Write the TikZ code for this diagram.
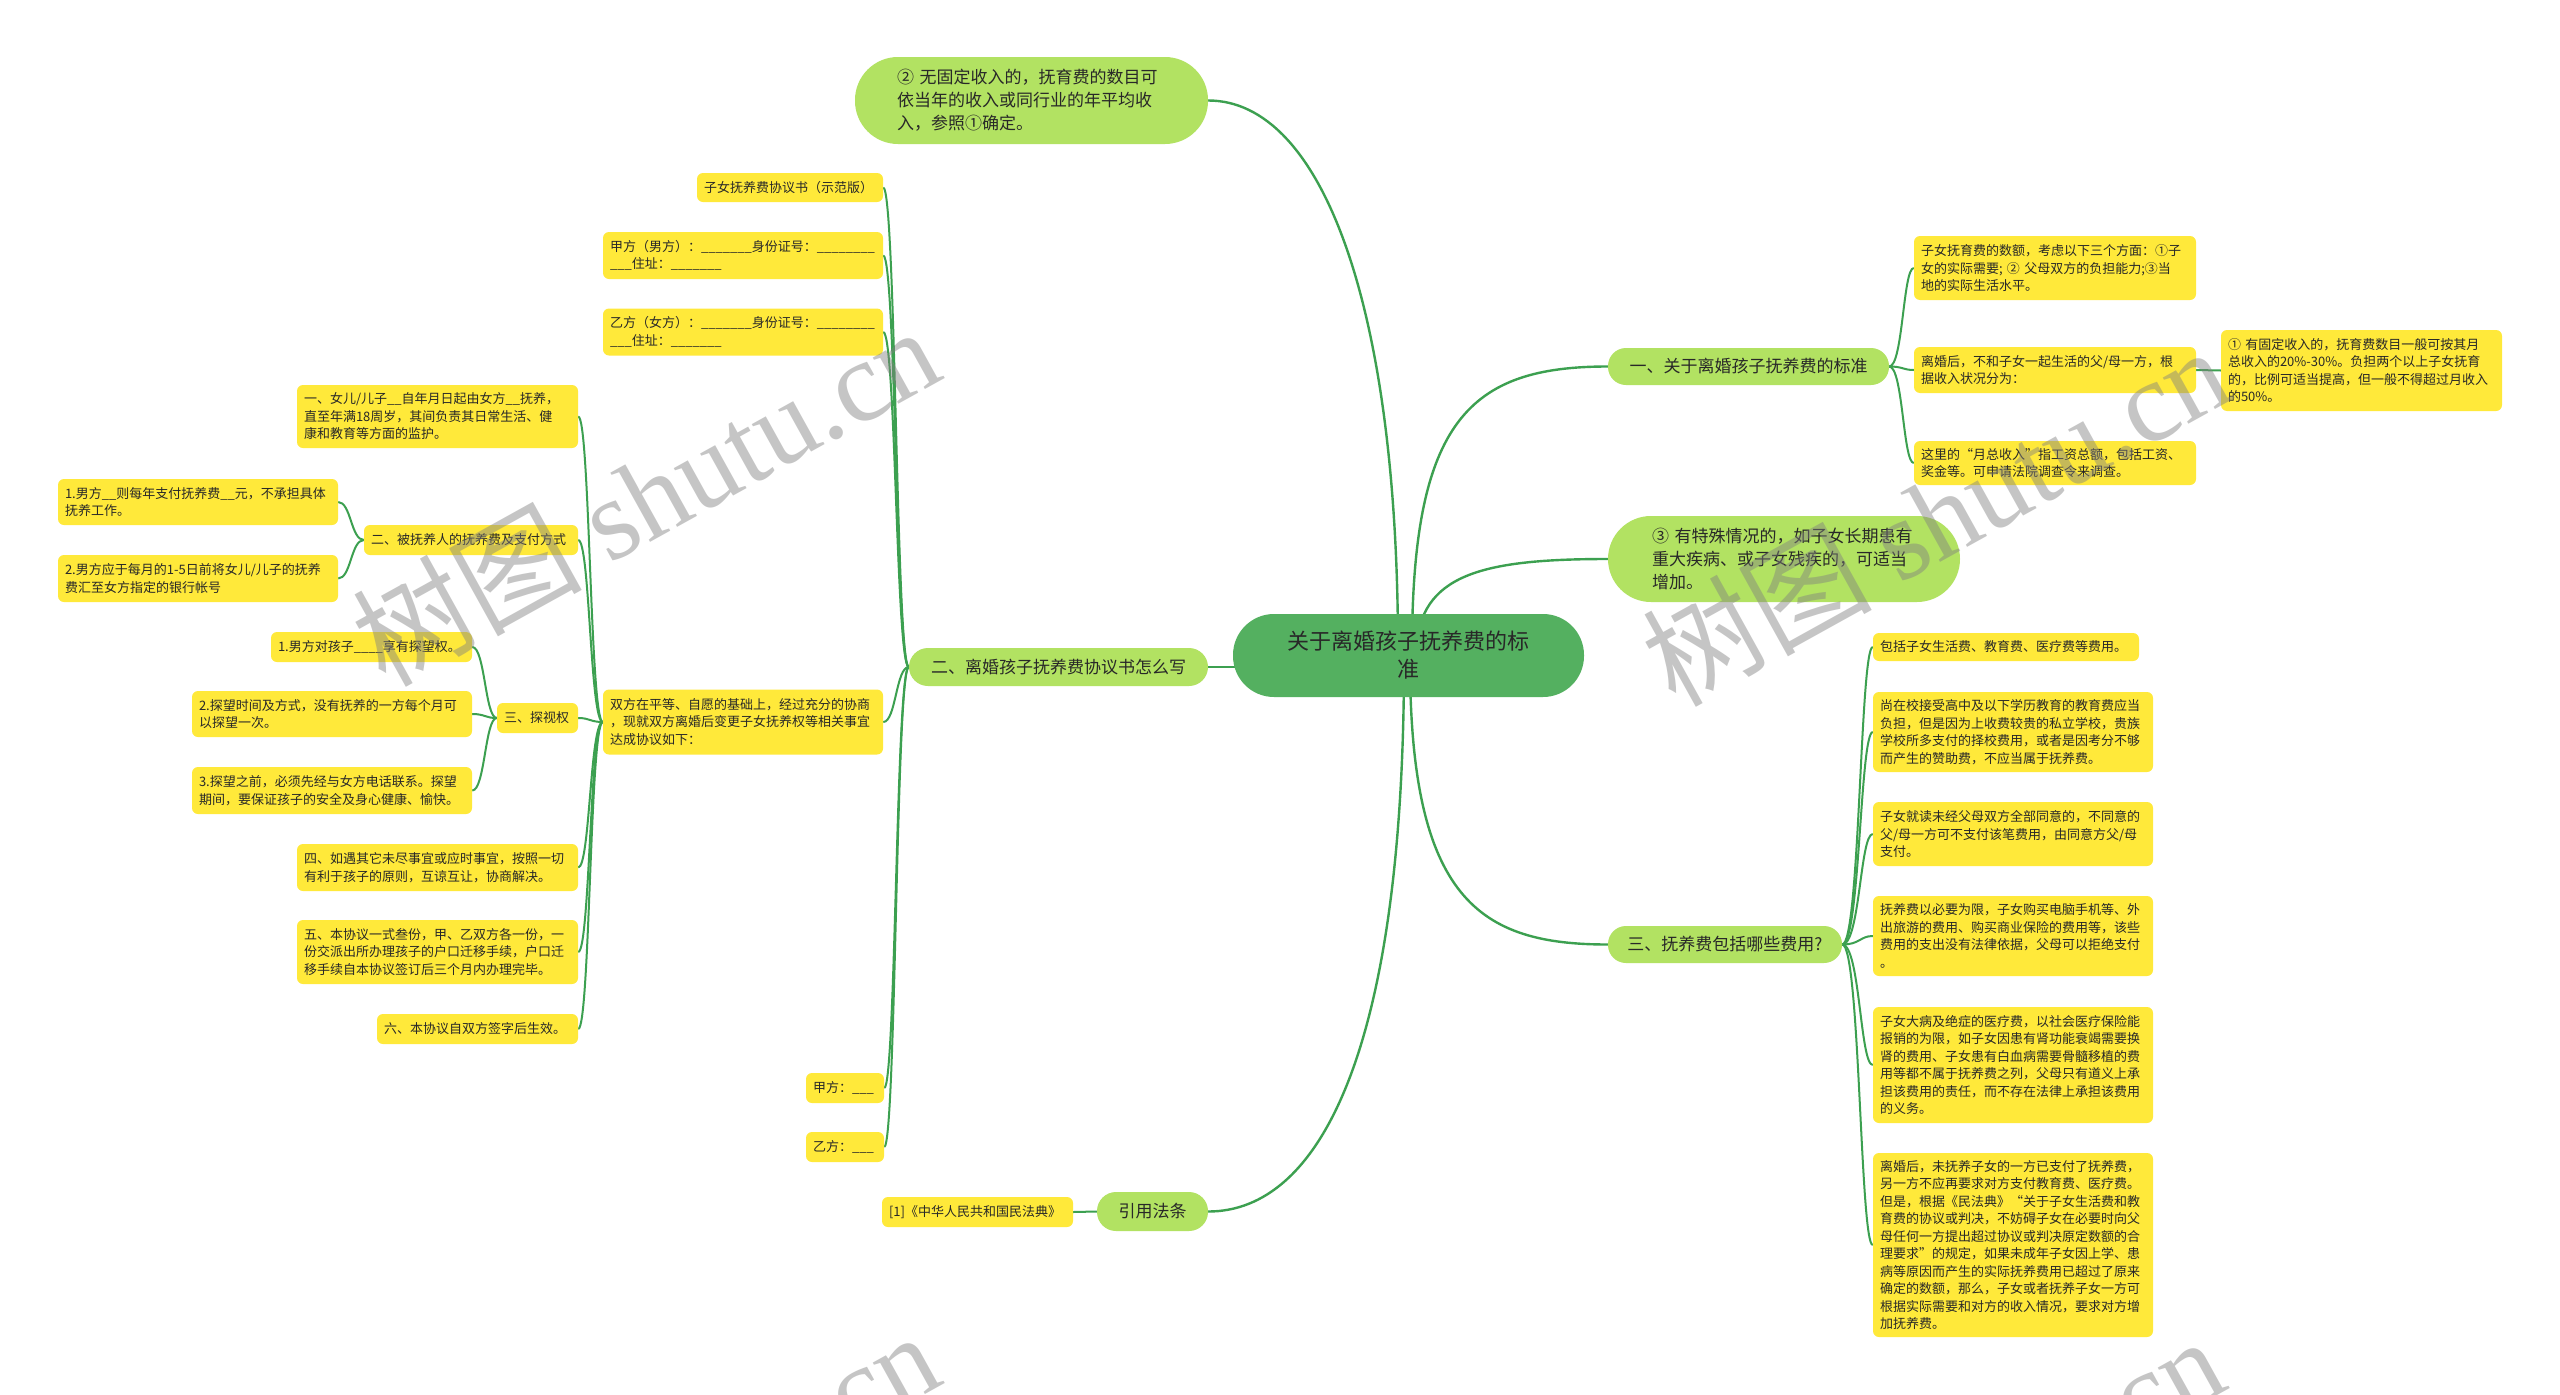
\documentclass[tikz,border=0pt]{standalone}
\usepackage{fontspec}
\setmainfont{Noto Sans CJK SC}
\newfontfamily\cjk{Noto Sans CJK SC}
\newfontfamily\wmser{Liberation Serif}
\usetikzlibrary{backgrounds}
\definecolor{rootg}{RGB}{84,176,96}
\definecolor{lvg}{RGB}{178,226,98}
\definecolor{yel}{RGB}{255,233,58}
\definecolor{lnc}{RGB}{60,160,80}
\definecolor{txt}{RGB}{40,40,40}
\tikzset{
  ybox/.style={fill=yel, rounded corners=6pt, inner xsep=7pt, inner ysep=3pt, align=left, text=txt, font=\cjk\fontsize{13}{17.5}\selectfont},
  pill/.style={fill=lvg, inner sep=0pt, align=center, text=txt, font=\cjk\fontsize{17}{23}\selectfont},
  conn/.style={draw=lnc, line width=2pt},
  rconn/.style={draw=lnc, line width=2.4pt},
  wm/.style={text=gray, opacity=0.45, font=\cjk\fontsize{115}{120}\selectfont, rotate=29, inner sep=0pt}
}
\newcommand\lk[3]{\draw[conn] (#1) .. controls (#3,0|-#1) and (#3,0|-#2) .. (#2);}
\begin{document}
\begin{tikzpicture}[x=1pt,y=-1pt]
\useasboundingbox (0,0) rectangle (2560,1395);

% root and level 1
\node[fill=rootg, rounded corners=41pt, minimum width=351pt, minimum height=83pt, align=center, text=txt, font=\cjk\fontsize{22}{28}\selectfont, inner sep=0pt] (root) at (1408.5,655.5) {关于离婚孩子抚养费的标\\准};
\node[pill, rounded corners=43pt, text width=269pt, inner xsep=42pt, minimum height=87pt, align=left] (T) at (1031.5,100.5) {② 无固定收入的，抚育费的数目可\\依当年的收入或同行业的年平均收\\入，参照①确定。};
\node[pill, rounded corners=18pt, minimum width=281pt, minimum height=37pt] (A) at (1748.5,366.5) {一、关于离婚孩子抚养费的标准};
\node[pill, rounded corners=43pt, text width=264pt, inner xsep=44pt, minimum height=86pt, align=left] (B) at (1784,559) {③ 有特殊情况的，如子女长期患有\\重大疾病、或子女残疾的，可适当\\增加。};
\node[pill, rounded corners=18pt, minimum width=234pt, minimum height=37pt] (C) at (1725,944.5) {三、抚养费包括哪些费用?};
\node[pill, rounded corners=19pt, minimum width=299pt, minimum height=38pt] (D) at (1058.5,667) {二、离婚孩子抚养费协议书怎么写};
\node[pill, rounded corners=19pt, minimum width=111pt, minimum height=39pt] (E) at (1152.5,1211.5) {引用法条};
\node[ybox, text width=177pt, minimum height=30pt] (E1) at (977.5,1212) {[1]《中华人民共和国民法典》};

% right: standard
\node[ybox, text width=268pt, minimum height=64pt] (R1) at (2055,268) {子女抚育费的数额，考虑以下三个方面：①子\\女的实际需要; ② 父母双方的负担能力;③当\\地的实际生活水平。};
\node[ybox, text width=268pt, minimum height=46pt] (R2) at (2055,370) {离婚后，不和子女一起生活的父/母一方，根\\据收入状况分为：};
\node[ybox, text width=268pt, minimum height=44pt] (R3) at (2055,463) {这里的“月总收入”指工资总额，包括工资、\\奖金等。可申请法院调查令来调查。};
\node[ybox, text width=267pt, minimum height=81pt] (R2a) at (2361.5,370.5) {① 有固定收入的，抚育费数目一般可按其月\\总收入的20\%-30\%。负担两个以上子女抚育\\的，比例可适当提高，但一般不得超过月收入\\的50\%。};

% right: costs
\node[ybox, text width=252pt, minimum height=28pt] (S1) at (2006,647) {包括子女生活费、教育费、医疗费等费用。};
\node[ybox, text width=266pt, minimum height=80pt] (S2) at (2013,732) {尚在校接受高中及以下学历教育的教育费应当\\负担，但是因为上收费较贵的私立学校，贵族\\学校所多支付的择校费用，或者是因考分不够\\而产生的赞助费，不应当属于抚养费。};
\node[ybox, text width=266pt, minimum height=64pt] (S3) at (2013,834) {子女就读未经父母双方全部同意的，不同意的\\父/母一方可不支付该笔费用，由同意方父/母\\支付。};
\node[ybox, text width=266pt, minimum height=80pt] (S4) at (2013,936) {抚养费以必要为限，子女购买电脑手机等、外\\出旅游的费用、购买商业保险的费用等，该些\\费用的支出没有法律依据，父母可以拒绝支付\\。};
\node[ybox, text width=266pt, minimum height=116pt] (S5) at (2013,1065) {子女大病及绝症的医疗费，以社会医疗保险能\\报销的为限，如子女因患有肾功能衰竭需要换\\肾的费用、子女患有白血病需要骨髓移植的费\\用等都不属于抚养费之列，父母只有道义上承\\担该费用的责任，而不存在法律上承担该费用\\的义务。};
\node[ybox, text width=266pt, minimum height=184pt] (S6) at (2013,1245) {离婚后，未抚养子女的一方已支付了抚养费，\\另一方不应再要求对方支付教育费、医疗费。\\但是，根据《民法典》“关于子女生活费和教\\育费的协议或判决，不妨碍子女在必要时向父\\母任何一方提出超过协议或判决原定数额的合\\理要求”的规定，如果未成年子女因上学、患\\病等原因而产生的实际抚养费用已超过了原来\\确定的数额，那么，子女或者抚养子女一方可\\根据实际需要和对方的收入情况，要求对方增\\加抚养费。};

% left: agreement
\node[ybox, text width=172pt, minimum height=29pt] (L1) at (790,187.5) {子女抚养费协议书（示范版）};
\node[ybox, text width=266pt, minimum height=47pt] (L2) at (743,255.5) {甲方（男方）：\_\_\_\_\_\_\_身份证号：\_\_\_\_\_\_\_\_\\\_\_\_住址：\_\_\_\_\_\_\_};
\node[ybox, text width=266pt, minimum height=47pt] (L3) at (743,332) {乙方（女方）：\_\_\_\_\_\_\_身份证号：\_\_\_\_\_\_\_\_\\\_\_\_住址：\_\_\_\_\_\_\_};
\node[ybox, text width=266pt, minimum height=65pt] (L4) at (743,722) {双方在平等、自愿的基础上，经过充分的协商\\，现就双方离婚后变更子女抚养权等相关事宜\\达成协议如下：};
\node[ybox, text width=64pt, minimum height=30pt] (L5) at (845,1088) {甲方：\_\_\_};
\node[ybox, text width=64pt, minimum height=30pt] (L6) at (845,1147) {乙方：\_\_\_};

\node[ybox, text width=267pt, minimum height=63pt] (M1) at (437.5,416.5) {一、女儿/儿子\_\_自年月日起由女方\_\_抚养，\\直至年满18周岁，其间负责其日常生活、健\\康和教育等方面的监护。};
\node[ybox, text width=200pt, minimum height=30pt] (M2) at (471,540) {二、被抚养人的抚养费及支付方式};
\node[ybox, text width=67pt, minimum height=30pt] (M3) at (537.5,718) {三、探视权};
\node[ybox, text width=267pt, minimum height=47pt] (M4) at (437.5,867.5) {四、如遇其它未尽事宜或应时事宜，按照一切\\有利于孩子的原则，互谅互让，协商解决。};
\node[ybox, text width=267pt, minimum height=64pt] (M5) at (437.5,952) {五、本协议一式叁份，甲、乙双方各一份，一\\份交派出所办理孩子的户口迁移手续，户口迁\\移手续自本协议签订后三个月内办理完毕。};
\node[ybox, text width=187pt, minimum height=30pt] (M6) at (477.5,1029) {六、本协议自双方签字后生效。};

\node[ybox, text width=266pt, minimum height=46pt] (N1) at (198,502) {1.男方\_\_则每年支付抚养费\_\_元，不承担具体\\抚养工作。};
\node[ybox, text width=266pt, minimum height=47pt] (N2) at (198,578.5) {2.男方应于每月的1-5日前将女儿/儿子的抚养\\费汇至女方指定的银行帐号};

\node[ybox, text width=187pt, minimum height=30pt] (P1) at (371.5,647) {1.男方对孩子\_\_\_\_享有探望权。};
\node[ybox, text width=266pt, minimum height=46pt] (P2) at (332,714) {2.探望时间及方式，没有抚养的一方每个月可\\以探望一次。};
\node[ybox, text width=266pt, minimum height=47pt] (P3) at (332,790.5) {3.探望之前，必须先经与女方电话联系。探望\\期间，要保证孩子的安全及身心健康、愉快。};

\begin{pgfonlayer}{background}
\fill[white] (0,0) rectangle (2560,1395);
\draw[rconn] (1398,650) .. controls (1398,300) and (1320,100.5) .. (T.east);
\draw[rconn] (1412,650) .. controls (1412,420) and (1470,366.5) .. (A.west);
\draw[rconn] (1416,650) .. controls (1420,575) and (1480,559) .. (B.west);
\draw[rconn] (1410,660) .. controls (1410,900) and (1480,944.5) .. (C.west);
\draw[rconn] (1300,667) -- (D.east);
\draw[rconn] (1404,660) .. controls (1404,1050) and (1320,1211.5) .. (E.east);
\draw[conn] (E.west) -- (E1.east);
\lk{A.east}{R1.west}{1903}
\lk{A.east}{R2.west}{1903}
\lk{A.east}{R3.west}{1903}
\draw[conn] (R2.east) -- (R2a.west);
\lk{C.east}{S1.west}{1860}
\lk{C.east}{S2.west}{1860}
\lk{C.east}{S3.west}{1860}
\lk{C.east}{S4.west}{1860}
\lk{C.east}{S5.west}{1860}
\lk{C.east}{S6.west}{1860}
\lk{D.west}{L1.east}{896}
\lk{D.west}{L2.east}{896}
\lk{D.west}{L3.east}{896}
\lk{D.west}{L4.east}{896}
\lk{D.west}{L5.east}{896}
\lk{D.west}{L6.east}{896}
\lk{L4.west}{M1.east}{590}
\lk{L4.west}{M2.east}{590}
\lk{L4.west}{M3.east}{590}
\lk{L4.west}{M4.east}{590}
\lk{L4.west}{M5.east}{590}
\lk{L4.west}{M6.east}{590}
\lk{M2.west}{N1.east}{351}
\lk{M2.west}{N2.east}{351}
\lk{M3.west}{P1.east}{485}
\lk{M3.west}{P2.east}{485}
\lk{M3.west}{P3.east}{485}
\end{pgfonlayer}

% watermarks
\node[wm] (w1) at (645,495) {树图 {\wmser shutu.cn}};
\node[wm] (w2) at (1935,515) {树图 {\wmser shutu.cn}};
\node[wm] (w3) at (645,1500) {树图 {\wmser shutu.cn}};
\node[wm] (w4) at (1930,1505) {树图 {\wmser shutu.cn}};
\end{tikzpicture}
\end{document}
